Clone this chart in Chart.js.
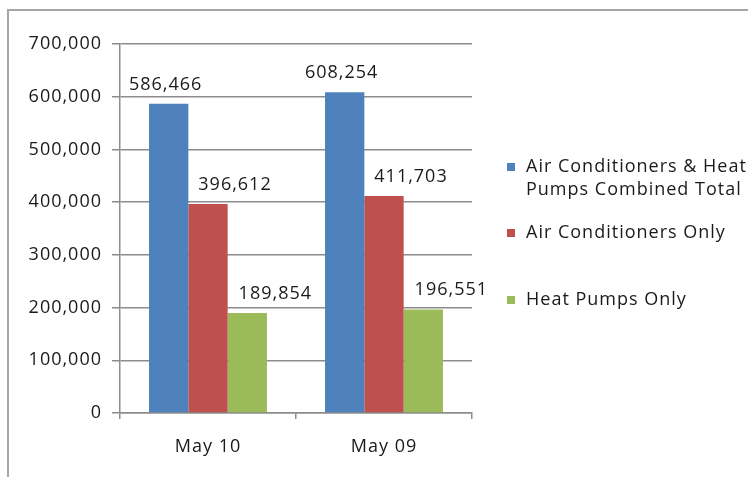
<!DOCTYPE html>
<html>
<head>
<meta charset="utf-8">
<script src="https://cdn.jsdelivr.net/npm/chart.js@4.4.1/dist/chart.umd.min.js"></script>
<style>
  html, body { margin: 0; padding: 0; background: #fff; }
  #wrap { position: relative; width: 748px; height: 477px; overflow: hidden; }
  #frame { position: absolute; left: 7px; top: 9px; width: 800px; height: 500px;
           border-left: 2px solid #a6a6a6; border-top: 2px solid #a6a6a6; }
  canvas { position: absolute; left: 0; top: 0; }
</style>
</head>
<body>
<div id="wrap">
  <div id="frame"></div>
  <canvas id="chart" width="748" height="477"></canvas>
</div>
<script>
// shipment figures
const categories = ['May 10', 'May 09'];
const seriesNames = ['Air Conditioners & Heat Pumps Combined Total', 'Air Conditioners Only', 'Heat Pumps Only'];
const combinedTotal = [586466, 608254];
const airConditionersOnly = [396612, 411703];
const heatPumpsOnly = [189854, 196551];
const yTicks = [0, 100000, 200000, 300000, 400000, 500000, 600000, 700000];

const colors = ['#4f81bd', '#c0504d', '#9bbb59'];
const FONT = '"Open Sans", sans-serif';
const TEXT = '#1a1a1a';
const GRID = '#8c8c8c';

// the original font is a bit wider, so spread the letters a little
const wideText = {
    id: 'wideText',
    beforeDraw(chart) {
        chart.ctx.letterSpacing = '1px';
    }
};

// labels above bars (Excel had them nudged right for red/green)
const barLabels = {
    id: 'barLabels',
    afterDatasetsDraw(chart, args, opts) {
        const ctx = chart.ctx;
        ctx.save();
        ctx.letterSpacing = '1px';
        ctx.font = '18px ' + FONT;
        ctx.fillStyle = TEXT;
        ctx.textAlign = 'center';
        ctx.textBaseline = 'alphabetic';
        chart.data.datasets.forEach((ds, i) => {
            const meta = chart.getDatasetMeta(i);
            meta.data.forEach((bar, j) => {
                ctx.fillText(ds.data[j].toLocaleString('en-US'), bar.x + opts.dx[i], bar.y - 14);
            });
        });
        ctx.restore();
    }
};

// legend on the right, with wrapping like the original
const sideLegend = {
    id: 'sideLegend',
    afterDraw(chart, args, opts) {
        const ctx = chart.ctx;
        ctx.save();
        ctx.letterSpacing = '1px';
        ctx.font = '18px ' + FONT;
        ctx.textBaseline = 'middle';
        chart.data.datasets.forEach((ds, i) => {
            const y = opts.rows[i];
            ctx.fillStyle = ds.backgroundColor;
            ctx.fillRect(opts.x, y - 4, 8, 8);
            ctx.fillStyle = TEXT;
            // simple word wrap
            const words = ds.label.split(' ');
            let line = '', ly = y;
            words.forEach(w => {
                const test = line ? line + ' ' + w : w;
                if (ctx.measureText(test).width > opts.maxWidth && line) {
                    ctx.fillText(line, opts.x + 19, ly);
                    line = w;
                    ly += 23;
                } else {
                    line = test;
                }
            });
            ctx.fillText(line, opts.x + 19, ly);
        });
        ctx.restore();
    }
};

new Chart(document.getElementById('chart'), {
    type: 'bar',
    data: {
        labels: categories,
        datasets: [
            { label: seriesNames[0], data: combinedTotal, backgroundColor: colors[0] },
            { label: seriesNames[1], data: airConditionersOnly, backgroundColor: colors[1] },
            { label: seriesNames[2], data: heatPumpsOnly, backgroundColor: colors[2] }
        ]
    },
    options: {
        responsive: false,
        animation: false,
        datasets: { bar: { categoryPercentage: 0.67, barPercentage: 1.0, borderWidth: 0 } },
        layout: { padding: { left: 0, right: 276, top: 44, bottom: 0 } },
        plugins: {
            legend: { display: false },
            tooltip: { enabled: false },
            barLabels: { dx: [-3, 27, 28] },
            sideLegend: { x: 507, rows: [167, 233, 300], maxWidth: 226 }
        },
        scales: {
            x: {
                afterFit(scale) { scale.height = 64; },
                grid: { offset: true, drawOnChartArea: false, drawTicks: true, tickLength: 6, color: GRID, lineWidth: 1.5 },
                border: { color: GRID, width: 1.5 },
                ticks: { color: TEXT, font: { family: FONT, size: 18 }, padding: 17 }
            },
            y: {
                min: 0,
                max: 700000,
                afterFit(scale) { scale.width = 120; },
                afterBuildTicks(scale) { scale.ticks = yTicks.map(v => ({ value: v })); },
                grid: { color: GRID, lineWidth: 1.5, tickLength: 8 },
                border: { color: GRID, width: 1.5 },
                ticks: {
                    color: TEXT,
                    font: { family: FONT, size: 18 },
                    padding: 10,
                    callback: v => v.toLocaleString('en-US')
                }
            }
        }
    },
    plugins: [wideText, barLabels, sideLegend]
});
</script>
</body>
</html>
